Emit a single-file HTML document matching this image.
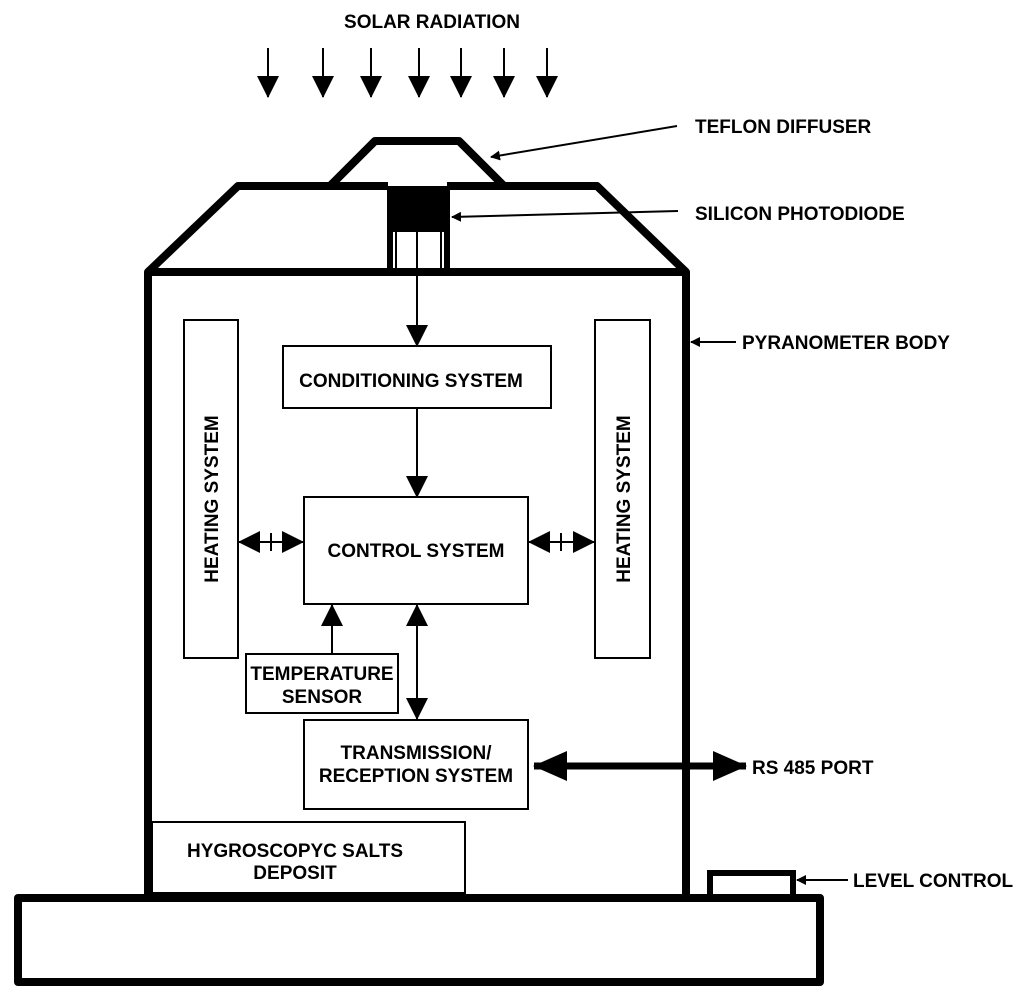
<!DOCTYPE html>
<html><head><meta charset="utf-8"><style>html,body{margin:0;padding:0;background:#fff}svg{display:block}text{font-family:"Liberation Sans",Arial,sans-serif;font-weight:bold;fill:#000}</style></head>
<body>
<svg width="1018" height="1000" viewBox="0 0 1018 1000" xmlns="http://www.w3.org/2000/svg">
<defs>
<marker id="a" markerWidth="10" markerHeight="10" refX="9" refY="5" orient="auto" markerUnits="userSpaceOnUse" viewBox="0 0 10 10"><path d="M0,0 L10,5 L0,10 z"/></marker>
<marker id="b" markerWidth="22" markerHeight="22" refX="21" refY="11" orient="auto-start-reverse" markerUnits="userSpaceOnUse" viewBox="0 0 22 22"><path d="M0,0 L22,11 L0,22 z"/></marker>
<marker id="c" markerWidth="34" markerHeight="30" refX="33" refY="15" orient="auto-start-reverse" markerUnits="userSpaceOnUse" viewBox="0 0 34 30"><path d="M0,0 L34,15 L0,30 z"/></marker>
</defs>
<g fill="none" stroke="#000">
<g stroke-width="2" marker-end="url(#b)">
<line x1="268" y1="48" x2="268" y2="97"/><line x1="323" y1="48" x2="323" y2="97"/><line x1="371" y1="48" x2="371" y2="97"/><line x1="419" y1="48" x2="419" y2="97"/><line x1="461" y1="48" x2="461" y2="97"/><line x1="504" y1="48" x2="504" y2="97"/><line x1="547" y1="48" x2="547" y2="97"/>
</g>
<polyline points="330,186 375,141 459,141 504,186" stroke-width="8" stroke-linejoin="round"/>
<polyline points="388,186 238,186 148,272 686,272 597,186 447,186" stroke-width="8" stroke-linejoin="round"/>
<polyline points="148,272 148,895" stroke-width="8"/>
<polyline points="686,272 686,895" stroke-width="8"/>
<rect x="388" y="186" width="61" height="46" fill="#000" stroke="none"/>
<line x1="390" y1="186" x2="390" y2="272" stroke-width="6"/>
<line x1="447" y1="186" x2="447" y2="272" stroke-width="6"/>
<line x1="396" y1="230" x2="396" y2="272" stroke-width="2"/>
<line x1="441" y1="230" x2="441" y2="272" stroke-width="2"/>
<rect x="18" y="898" width="802" height="84" stroke-width="8" stroke-linejoin="round"/>
<rect x="710" y="873" width="83" height="25" stroke-width="6"/>
<g stroke-width="2">
<rect x="184" y="320" width="54" height="338"/>
<rect x="595" y="320" width="55" height="338"/>
<rect x="283" y="346" width="268" height="62"/>
<rect x="304" y="497" width="224" height="107"/>
<rect x="246" y="654" width="152" height="59"/>
<rect x="304" y="720" width="224" height="89"/>
<rect x="152" y="822" width="313" height="71"/>
</g>
<g stroke-width="2">
<line x1="417" y1="232" x2="417" y2="346" marker-end="url(#b)"/>
<line x1="417" y1="408" x2="417" y2="497" marker-end="url(#b)"/>
<line x1="332" y1="654" x2="332" y2="605" marker-end="url(#b)"/>
<line x1="417" y1="605" x2="417" y2="719" marker-start="url(#b)" marker-end="url(#b)"/>
<line x1="239" y1="542" x2="303" y2="542" marker-start="url(#b)" marker-end="url(#b)"/>
<line x1="529" y1="542" x2="594" y2="542" marker-start="url(#b)" marker-end="url(#b)"/>
<line x1="271" y1="533" x2="271" y2="551" stroke-width="2"/>
<line x1="561" y1="533" x2="561" y2="551" stroke-width="2"/>
<line x1="677" y1="126" x2="491" y2="157" marker-end="url(#a)"/>
<line x1="678" y1="211" x2="452" y2="217" marker-end="url(#a)"/>
<line x1="736" y1="342" x2="691" y2="342" marker-end="url(#a)"/>
<line x1="848" y1="880" x2="797" y2="880" marker-end="url(#a)"/>
</g>
<line x1="534" y1="766" x2="746" y2="766" stroke-width="7" marker-start="url(#c)" marker-end="url(#c)"/>
</g>
<g font-size="19">
<text x="432" y="28" text-anchor="middle">SOLAR RADIATION</text>
<text x="695" y="133">TEFLON DIFFUSER</text>
<text x="695" y="220">SILICON PHOTODIODE</text>
<text x="742" y="349">PYRANOMETER BODY</text>
<text x="752" y="774">RS 485 PORT</text>
<text x="853" y="887">LEVEL CONTROL</text>
<text x="411" y="387" text-anchor="middle">CONDITIONING SYSTEM</text>
<text x="416" y="557" text-anchor="middle">CONTROL SYSTEM</text>
<text x="322" y="680" text-anchor="middle">TEMPERATURE</text>
<text x="322" y="703" text-anchor="middle">SENSOR</text>
<text x="416" y="759" text-anchor="middle">TRANSMISSION/</text>
<text x="416" y="782" text-anchor="middle">RECEPTION SYSTEM</text>
<text x="295" y="857" text-anchor="middle">HYGROSCOPYC SALTS</text>
<text x="295" y="879" text-anchor="middle">DEPOSIT</text>
<text transform="translate(218,499) rotate(-90)" text-anchor="middle">HEATING SYSTEM</text>
<text transform="translate(630,499) rotate(-90)" text-anchor="middle">HEATING SYSTEM</text>
</g>
</svg>
</body></html>
